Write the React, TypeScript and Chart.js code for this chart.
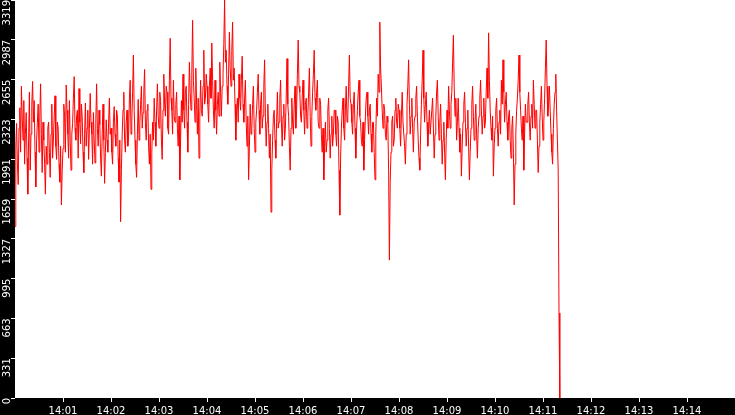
import { useEffect, useRef } from "react"
import { Chart, registerables } from "chart.js"

Chart.register(...registerables)

// one reading every second starting at 14:00:00
const sampleSeconds = 1

const values = [
  1430, 2100, 2290, 1950, 1780, 2250, 2420, 2050, 2600, 2350, 2150, 2480, 1950, 2200, 2380, 2000, 1700, 2150, 2550, 1900,
  2200, 2450, 2640, 2300, 2480, 2050, 1760, 2150, 2300, 2450, 2050, 2350, 2620, 2200, 1880, 2300, 2150, 1950, 1700, 2100,
  1950, 2250, 2300, 2050, 1840, 2200, 2450, 2000, 2150, 2350, 2520, 2100, 1990, 2300, 2250, 1950, 1800, 2100, 1610, 1900,
  2080, 2450, 2350, 2050, 2610, 2400, 2200, 2000, 2480, 2150, 1900, 2200, 2290, 2500, 2680, 2250, 2150, 2350, 2400, 2000,
  2580, 2300, 2120, 2450, 2350, 2050, 1880, 2200, 2460, 2100, 2250, 2400, 1990, 2250, 2540, 2300, 2200, 1950, 2380, 2150,
  1960, 2300, 2620, 2250, 2100, 2400, 2280, 2000, 1850, 2200, 2450, 2150, 1790, 2050, 2320, 2150, 2050, 2300, 2500, 2200,
  2250, 2050, 1950, 2300, 2430, 2200, 2100, 2400, 2350, 2000, 1800, 2150, 1470, 1900, 2200, 2400, 2550, 2150, 2050, 2300,
  2400, 2100, 2180, 2500, 2650, 2200, 2300, 2550, 2860, 2400, 2150, 1950, 1840, 2200, 2490, 2150, 2280, 2450, 2600, 2250,
  2380, 2550, 2740, 2300, 2150, 2400, 2450, 2100, 1950, 2200, 1740, 2050, 2300, 2150, 2500, 2300, 2100, 2400, 2620, 2350,
  2250, 2550, 2480, 2150, 1990, 2400, 2700, 2450, 2350, 2600, 2550, 2250, 2200, 2650, 3000, 2500, 2400, 2200, 2650, 2350,
  2300, 2450, 2550, 2250, 2100, 2350, 1820, 2150, 2480, 2300, 2700, 2400, 2250, 2550, 2600, 2300, 2050, 2450, 2800, 2550,
  2400, 2700, 3150, 2650, 2500, 2300, 2750, 2450, 2200, 2500, 2000, 2350, 2650, 2400, 2350, 2600, 2900, 2450, 2500, 2700,
  2600, 2450, 2300, 2600, 2750, 2500, 2960, 2650, 2400, 2250, 2650, 2400, 2200, 2450, 2550, 2350, 2800, 2550, 2350, 2600,
  2700, 2950, 3319, 2800, 2900, 2600, 2450, 2700, 3050, 2750, 2600, 2900, 3135, 2650, 2750, 2450, 2150, 2400, 2500, 2300,
  2700, 2500, 2400, 2650, 2850, 2450, 2300, 2500, 2650, 2300, 2100, 2350, 1820, 2100, 2450, 2200, 2250, 2450, 2600, 2250,
  2050, 2300, 2400, 2550, 2700, 2400, 2200, 2450, 2550, 2250, 2350, 2600, 2820, 2350, 2100, 2300, 2450, 2250, 2000, 2200,
  1550, 1900, 2150, 2350, 2400, 2150, 2000, 2300, 2550, 2250, 2300, 2500, 2650, 2300, 2100, 2350, 2450, 2150, 2250, 2500,
  2830, 2450, 2350, 2100, 1900, 2250, 2500, 2300, 2200, 2450, 2600, 2250, 2400, 2700, 2985, 2600, 2550, 2350, 2300, 2500,
  2650, 2400, 2200, 2450, 2500, 2250, 2350, 2550, 2750, 2350, 2100, 2350, 2550, 2700, 2900, 2500, 2400, 2550, 2650, 2300,
  2250, 2500, 2450, 2200, 2050, 2250, 1820, 2100, 2300, 2050, 2150, 2400, 2500, 2250, 2000, 2200, 2350, 2100, 2200, 2400,
  2400, 2200, 2100, 2350, 2300, 1900, 1525, 2000, 2250, 2400, 2500, 2250, 2150, 2400, 2600, 2300, 2350, 2600, 2860, 2500,
  2450, 2300, 2200, 2450, 2550, 2250, 2000, 2250, 2400, 2550, 2650, 2350, 2300, 2150, 2100, 2300, 1900, 2150, 2350, 2500,
  2550, 2350, 2200, 2400, 2450, 2200, 2050, 2300, 2300, 2050, 1820, 2200, 2500, 2350, 2700, 2550, 3135, 2750, 2600, 2400,
  2250, 2450, 2400, 2200, 2150, 2350, 2300, 1900, 1150, 1800, 2050, 2300, 2350, 2100, 2150, 2400, 2500, 2300, 2250, 2450,
  2400, 2250, 2100, 2350, 2550, 2300, 2300, 2100, 1950, 2200, 2450, 2600, 2820, 2450, 2200, 2350, 2500, 2250, 2050, 2300,
  2350, 2500, 2600, 2350, 2150, 2000, 1900, 2200, 2450, 2650, 2900, 2500, 2300, 2450, 2550, 2300, 2100, 2250, 2400, 2200,
  2200, 2400, 2500, 2250, 2000, 2200, 2350, 2550, 2650, 2350, 2150, 2300, 2450, 2200, 1950, 2150, 2300, 2050, 1820, 2150,
  2400, 2250, 2600, 2400, 2250, 2450, 2550, 2800, 3025, 2600, 2350, 2500, 2150, 2300, 2500, 2250, 2050, 2200, 1850, 2100,
  2300, 2450, 2550, 2300, 2100, 2250, 2400, 2100, 1820, 2050, 2250, 2450, 2600, 2350, 2150, 2300, 2450, 2200, 2000, 2250,
  2350, 2500, 2650, 2400, 2200, 2350, 2500, 2250, 2300, 2550, 2750, 2500, 3045, 2650, 2400, 2250, 2150, 2350, 1850, 2100,
  2250, 2400, 2500, 2250, 2100, 2300, 2400, 2200, 2650, 2450, 2820, 2550, 2300, 2450, 2550, 2300, 2150, 2350, 2400, 2150,
  2000, 2250, 2350, 2050, 1610, 1950, 2200, 2400, 2500, 2650, 2860, 2550, 2400, 2250, 2150, 2350, 1900, 2200, 2450, 2300,
  2300, 2450, 2550, 2300, 2150, 2350, 2450, 2250, 2650, 2450, 2250, 2400, 2400, 2150, 1880, 2100, 2300, 2450, 2600, 2350,
  2150, 2300, 2500, 2750, 2985, 2600, 2350, 2450, 2600, 2400, 2200, 2050, 1950, 2250, 2450, 2550, 2700, 2400, 2150, 1900,
  709, 0,
]

const yTickValues = [0, 331.9, 663.8, 995.7, 1327.6, 1659.5, 1991.4, 2323.3, 2655.2, 2987.1, 3319]
const yTickLabels = ["0", "331", "663", "995", "1327", "1659", "1991", "2323", "2655", "2987", "3319"]

const xTickSeconds = [60, 120, 180, 240, 300, 360, 420, 480, 540, 600, 660, 720, 780, 840]
const xTickLabels = ["14:01", "14:02", "14:03", "14:04", "14:05", "14:06", "14:07", "14:08", "14:09", "14:10", "14:11", "14:12", "14:13", "14:14"]

const axisFont = { family: "DejaVu Sans", size: 10 }

// black frame behind the axes, white plot area
const framePlugin = {
  id: "frame",
  beforeDraw(chart: any) {
    const { ctx, chartArea, width, height } = chart
    ctx.save()
    ctx.fillStyle = "#000"
    ctx.fillRect(0, 0, width, height)
    ctx.fillStyle = "#fff"
    ctx.fillRect(chartArea.left, chartArea.top, chartArea.right - chartArea.left, chartArea.bottom - chartArea.top)
    ctx.restore()
  },
}

export default function App() {
  const chartRef = useRef<HTMLCanvasElement | null>(null)
  const chartInstance = useRef<Chart | null>(null)

  useEffect(() => {
    document.body.style.margin = "0"
    if (!chartRef.current) return
    const ctx = chartRef.current.getContext("2d")
    if (!ctx) return

    const points = values.map((v, i) => ({ x: i * sampleSeconds, y: v }))

    chartInstance.current = new Chart(ctx, {
      type: "line",
      data: {
        datasets: [
          {
            data: points,
            borderColor: "#ff0000",
            borderWidth: 1,
            pointRadius: 0,
            tension: 0,
          },
        ],
      },
      options: {
        responsive: false,
        animation: false,
        layout: { padding: 0 },
        plugins: {
          legend: { display: false },
          tooltip: { enabled: false },
        },
        scales: {
          x: {
            type: "linear",
            min: 0,
            max: 900,
            afterBuildTicks: (scale: any) => {
              scale.ticks = xTickSeconds.map((v) => ({ value: v }))
            },
            afterFit: (scale: any) => {
              scale.height = 17
              scale.paddingLeft = 0
              scale.paddingRight = 0
            },
            ticks: {
              color: "#fff",
              font: axisFont,
              padding: 3,
              maxRotation: 0,
              autoSkip: false,
              callback: (_v: any, i: number) => xTickLabels[i],
            },
            grid: { drawOnChartArea: false, color: "#fff", tickLength: 4 },
            border: { display: false },
          },
          y: {
            min: 0,
            max: 3319,
            afterBuildTicks: (scale: any) => {
              scale.ticks = yTickValues.map((v) => ({ value: v }))
            },
            afterFit: (scale: any) => {
              scale.width = 15
              scale.paddingTop = 0
              scale.paddingBottom = 0
            },
            ticks: {
              color: "#fff",
              font: axisFont,
              padding: 4,
              minRotation: 90,
              maxRotation: 90,
              autoSkip: false,
              callback: (_v: any, i: number) => yTickLabels[i],
            },
            grid: { drawOnChartArea: false, color: "#fff", tickLength: 4 },
            border: { display: false },
          },
        },
      },
      plugins: [framePlugin],
    })

    return () => {
      if (chartInstance.current) {
        chartInstance.current.destroy()
      }
    }
  }, [])

  return (
    <div style={{ width: "735px", height: "415px" }}>
      <canvas ref={chartRef} width={735} height={415} style={{ display: "block" }}></canvas>
    </div>
  )
}
